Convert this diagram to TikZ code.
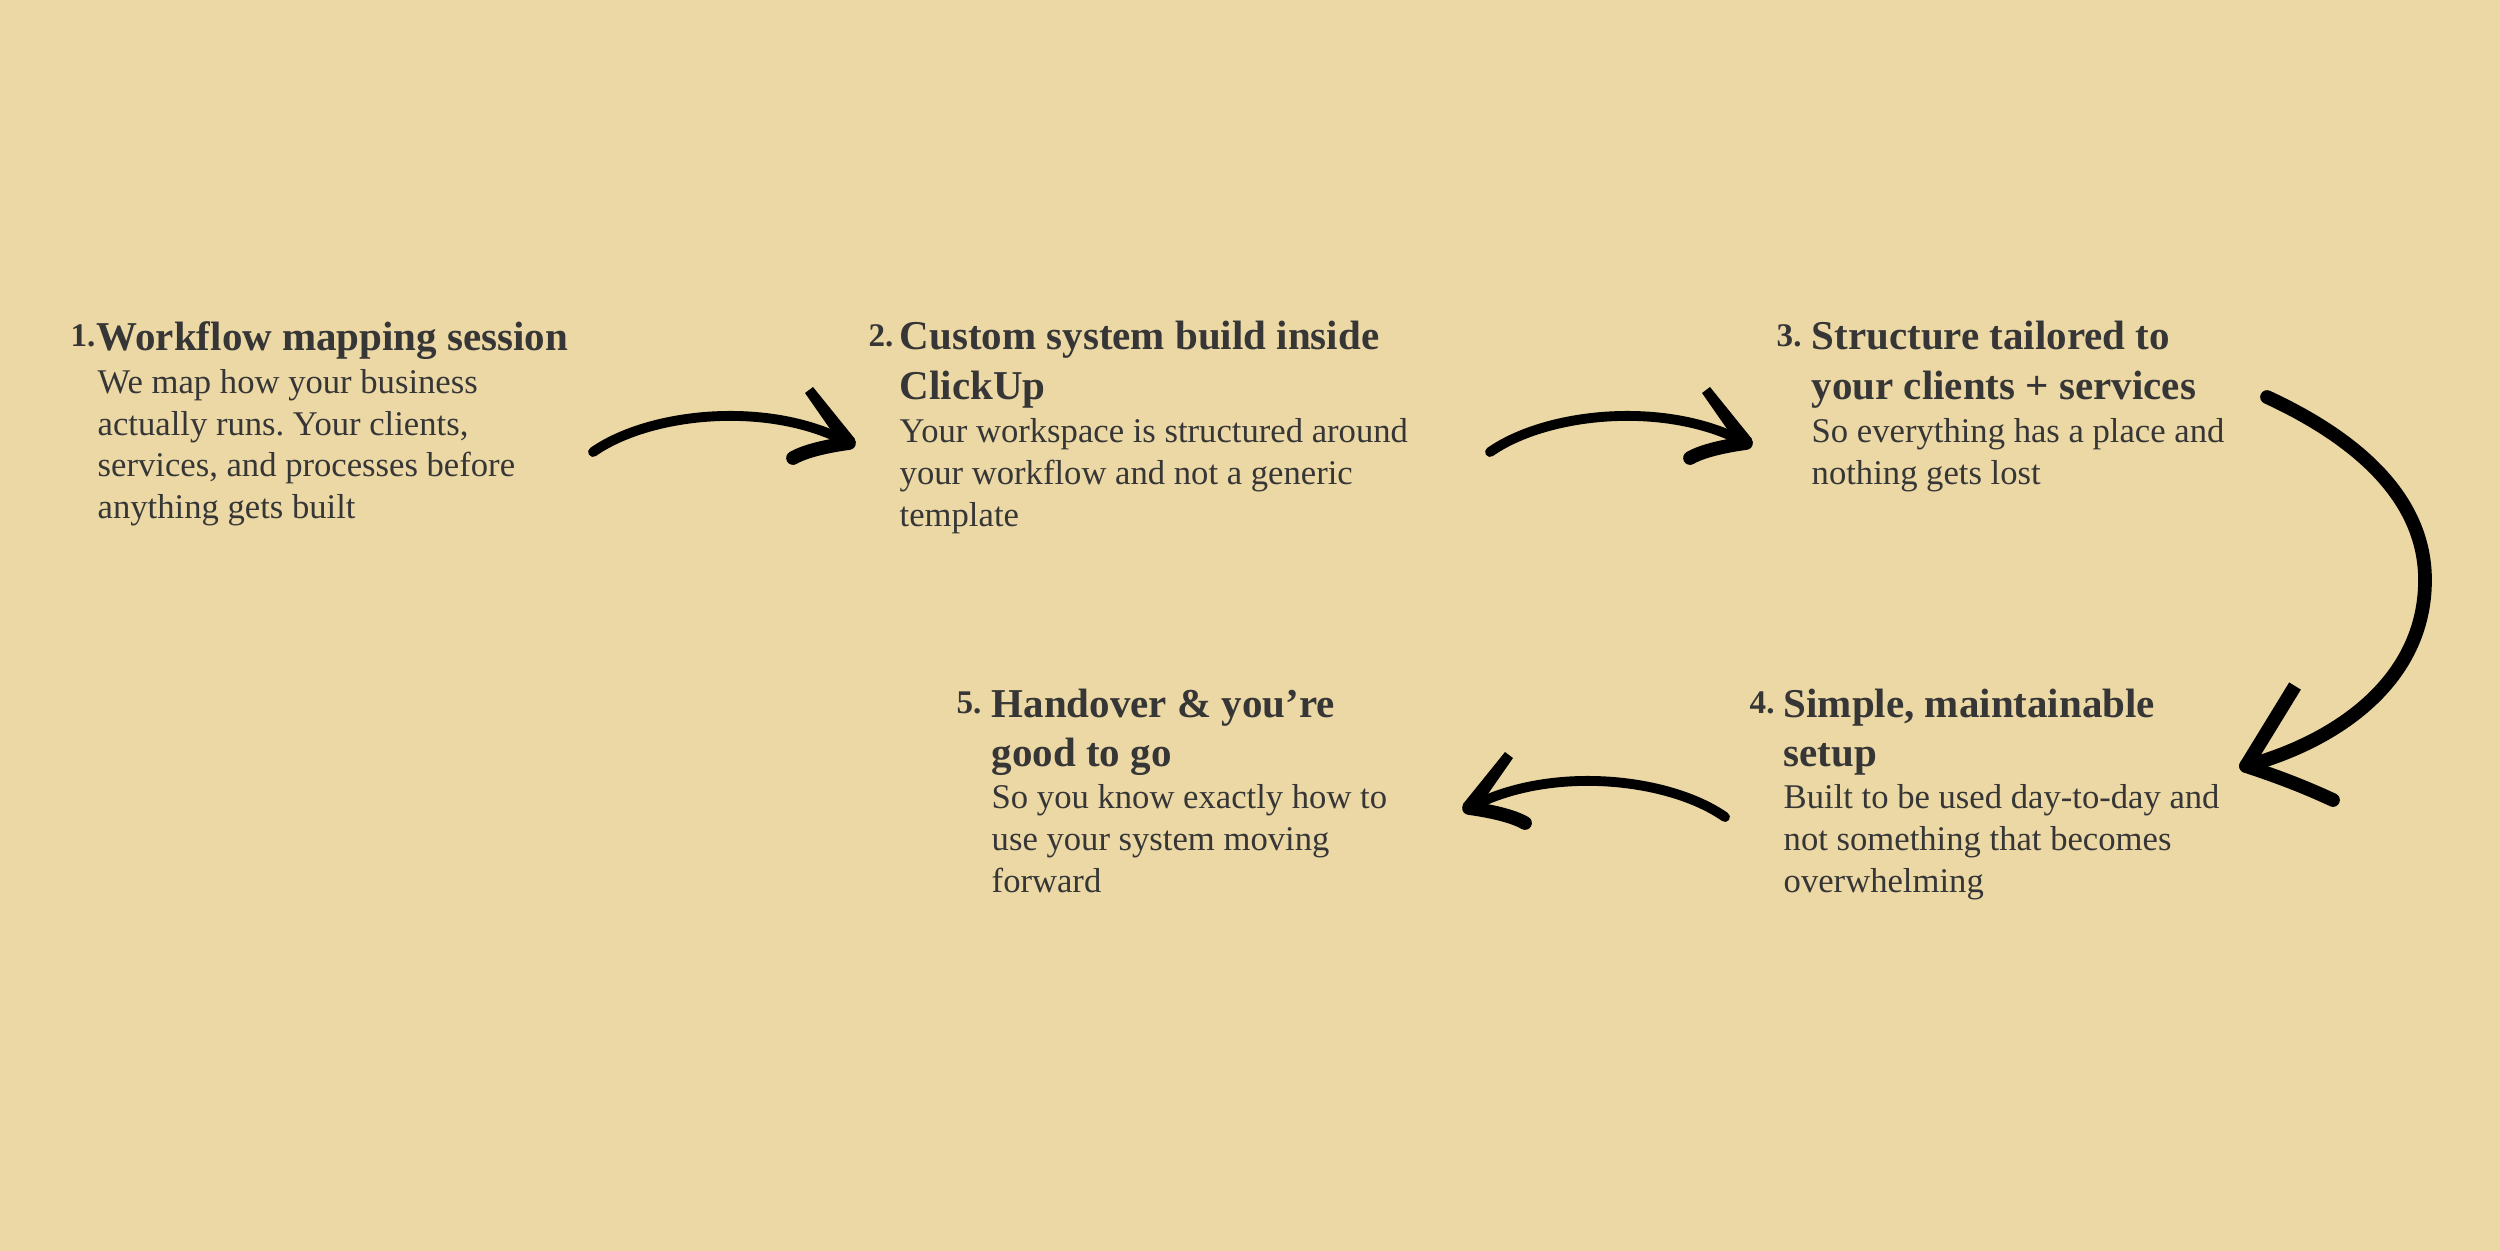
\documentclass[tikz,border=0pt]{standalone}
\usepackage{fontspec}
\setmainfont{Liberation Serif}
\usetikzlibrary{calc}
\definecolor{bg}{HTML}{EBD8A5}
\definecolor{txt}{HTML}{363636}
\frenchspacing
\begin{document}
\begin{tikzpicture}[x=0.01cm,y=-0.01cm,
  head/.style={anchor=base west,inner sep=0pt,align=left,text=txt,
    font=\frenchspacing\bfseries\fontsize{11.66pt}{13.94pt}\selectfont},
  body/.style={anchor=base west,inner sep=0pt,align=left,text=txt,
    font=\frenchspacing\fontsize{9.85pt}{11.81pt}\selectfont},
  num/.style={anchor=base west,inner sep=0pt,text=txt,
    font=\bfseries\fontsize{9.4pt}{11pt}\selectfont},
  shaft/.style={draw=black,line width=2.8pt,line cap=round},
  bigshaft/.style={draw=black,line width=3.9pt,line cap=round},
  barb/.style={draw=black,line width=3.9pt,line cap=round},
  ink/.style={fill=black}]
\useasboundingbox (0,0) rectangle (2500,1250);
\fill[bg] (-10,-10) rectangle (2510,1260);

% block 1 (base anchor = last line baseline)
\node[num]  (n1) at (70,346) {1.};
\node[head] (h1) at (96,350) {Workflow mapping session};
\node[body] (b1) at (97,518.5) {We map how your business\\actually runs. Your clients,\\services, and processes before\\anything gets built};

% block 2
\node[num]  (n2) at (868,346) {2.};
\node[head] (h2) at (899,399) {Custom system build inside\\ClickUp};
\node[body] (b2) at (899,526) {Your workspace is structured around\\your workflow and not a generic\\template};

% block 3
\node[num]  (n3) at (1776,346) {3.};
\node[head] (h3) at (1811,399) {Structure tailored to\\your clients + services};
\node[body] (b3) at (1811,484.5) {So everything has a place and\\nothing gets lost};

% block 4
\node[num]  (n4) at (1749,713) {4.};
\node[head] (h4) at (1783,766) {Simple, maintainable\\setup};
\node[body] (b4) at (1783,892) {Built to be used day-to-day and\\not something that becomes\\overwhelming};

% block 5
\node[num]  (n5) at (956,713) {5.};
\node[head] (h5) at (991,766) {Handover \& you’re\\good to go};
\node[body] (b5) at (991,892) {So you know exactly how to\\use your system moving\\forward};

% arrow 1 -> 2
\coordinate (a1s) at (593,452);
\coordinate (a1t) at (849,443);
\draw[shaft] (a1s) .. controls +(57,-40) and +(-79,-43) .. (a1t);
\fill[ink] ($(a1t)+(-44,-50)$) -- ($(a1t)+(-36,-56)$) -- ($(a1t)+(6,-4)$) -- ($(a1t)+(-5,6)$) -- cycle;
\draw[barb] (a1t) .. controls +(-22,3) and +(12,-7) .. ($(a1t)+(-56,15)$);

% arrow 2 -> 3
\coordinate (a2s) at (1490,452);
\coordinate (a2t) at (1746,443);
\draw[shaft] (a2s) .. controls +(57,-40) and +(-79,-43) .. (a2t);
\fill[ink] ($(a2t)+(-44,-50)$) -- ($(a2t)+(-36,-56)$) -- ($(a2t)+(6,-4)$) -- ($(a2t)+(-5,6)$) -- cycle;
\draw[barb] (a2t) .. controls +(-22,3) and +(12,-7) .. ($(a2t)+(-56,15)$);

% arrow 3 -> 4
\coordinate (a3s) at (2267,397);
\coordinate (a3m) at (2425,580);
\coordinate (a3t) at (2246,766);
\draw[bigshaft] (a3s) .. controls +(93,43) and +(0,-80) .. (a3m)
   .. controls +(0,100) and +(92,-25) .. (a3t);
\draw[draw=black,line width=3.9pt] ($(a3t)+(49,-80)$) -- (a3t);
\draw[barb] (a3t) .. controls +(30,10) and +(-30,-14) .. ($(a3t)+(87,34)$);

% arrow 4 -> 5
\coordinate (a4s) at (1725,817);
\coordinate (a4t) at (1469,808);
\draw[shaft] (a4s) .. controls +(-57,-40) and +(79,-43) .. (a4t);
\fill[ink] ($(a4t)+(44,-50)$) -- ($(a4t)+(36,-56)$) -- ($(a4t)+(-6,-4)$) -- ($(a4t)+(5,6)$) -- cycle;
\draw[barb] (a4t) .. controls +(22,3) and +(-12,-7) .. ($(a4t)+(56,15)$);
\end{tikzpicture}
\end{document}
